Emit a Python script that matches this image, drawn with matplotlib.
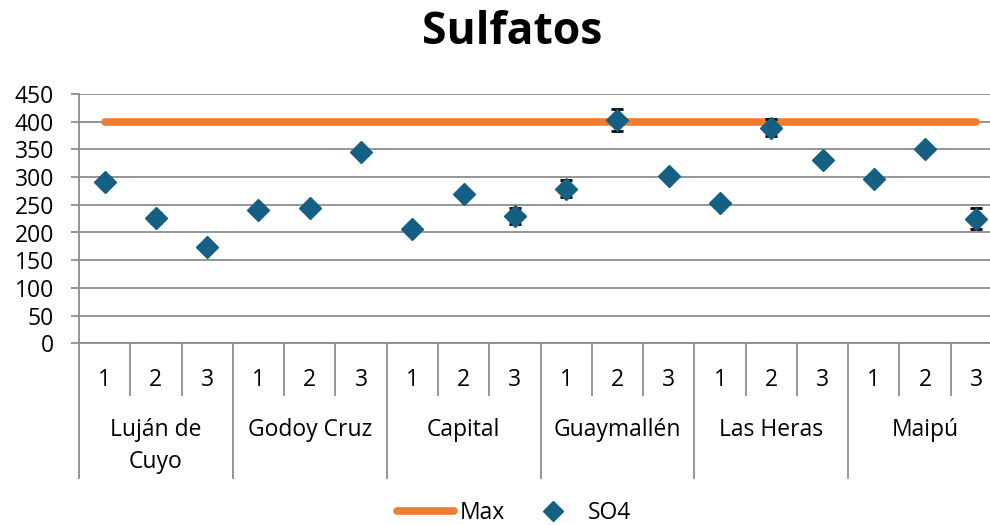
import matplotlib
matplotlib.use("Agg")
import matplotlib.pyplot as plt
from matplotlib import transforms
from matplotlib.lines import Line2D
import numpy as np

groups = ["Luján de\nCuyo", "Godoy Cruz", "Capital", "Guaymallén", "Las Heras", "Maipú"]
subs = ["1", "2", "3"]
so4 = [292, 226, 173, 240, 245, 346, 206, 269, 230, 279, 403, 302, 254, 389, 331, 297, 350, 225]
so4_err = [6, 9, 4, 4, 4, 4, 4, 4, 14, 15, 20, 5, 4, 15, 4, 5, 6, 19]
max_value = 400
yticks = [0, 50, 100, 150, 200, 250, 300, 350, 400, 450]

plt.rcParams['font.family'] = ['Open Sans', 'DejaVu Sans']
FS = 16.5

W, H = 990, 525
fig = plt.figure(figsize=(W / 100, H / 100), dpi=100)
left_px, right_px, top_px, bot_px = 79, 1002, 94, 343.3
ax = fig.add_axes([left_px / W, 1 - bot_px / H, (right_px - left_px) / W, (bot_px - top_px) / H])

n = len(so4)
x = np.arange(n) + 0.5
grid_c = "#8c8c8c"

ax.set_xlim(0, n)
ax.set_ylim(0, 450)
ax.set_yticks(yticks)
ax.set_yticklabels([str(v) for v in yticks], fontsize=FS)
ax.tick_params(axis='y', length=6, width=1.3, color=grid_c, pad=12)
ax.set_xticks([])
ax.grid(axis='y', color=grid_c, lw=1.3, zorder=0)
ax.set_axisbelow(True)
for s in ["top", "right"]:
    ax.spines[s].set_visible(False)
for s in ["left", "bottom"]:
    ax.spines[s].set_color(grid_c)
    ax.spines[s].set_linewidth(1.3)

# Max line
ax.plot([x[0], x[-1]], [max_value, max_value], color="#ED7D31", lw=5.5,
        solid_capstyle="round", zorder=3)

# SO4 points with error bars
ax.errorbar(x, so4, yerr=so4_err, fmt='none', ecolor='black', elinewidth=1.3,
            capsize=4.3, capthick=2, zorder=4)
ax.plot(x, so4, linestyle='none', marker='D', markersize=11, color="#156082",
        markeredgecolor="#156082", zorder=5)

# Category axis (multi-level)
tr = transforms.blended_transform_factory(ax.transData, fig.transFigure)
y0 = 1 - bot_px / H
y_sub = 1 - 395 / H
y_grp = 1 - 478 / H
for i in range(n + 1):
    y_end = y_grp if i % 3 == 0 else y_sub
    ax.plot([i, i], [y0, y_end], transform=tr, color=grid_c, lw=1.3, clip_on=False)
for i in range(n):
    ax.text(x[i], 1 - 380 / H, subs[i % 3], transform=tr, ha='center', va='center', fontsize=FS)
for g, name in enumerate(groups):
    lines = name.split("\n")
    for k, line in enumerate(lines):
        ax.text(g * 3 + 1.5, 1 - (430 + 32 * k) / H, line, transform=tr,
                ha='center', va='center', fontsize=FS)

fig.text(512 / W, 1 - 32 / H, "Sulfatos", ha='center', va='center', fontsize=32, fontweight='bold')

handles = [Line2D([0], [0], color="#ED7D31", lw=5.5, solid_capstyle='round'),
           Line2D([0], [0], linestyle='none', marker='D', markersize=10, color="#156082")]
fig.legend(handles, ["Max", "SO4"], loc='center', bbox_to_anchor=(514 / W, 1 - 513 / H),
           ncol=2, frameon=False, fontsize=FS, handlelength=2.5, handletextpad=0.25,
           columnspacing=0.85)

fig.savefig("out.png", dpi=100)
